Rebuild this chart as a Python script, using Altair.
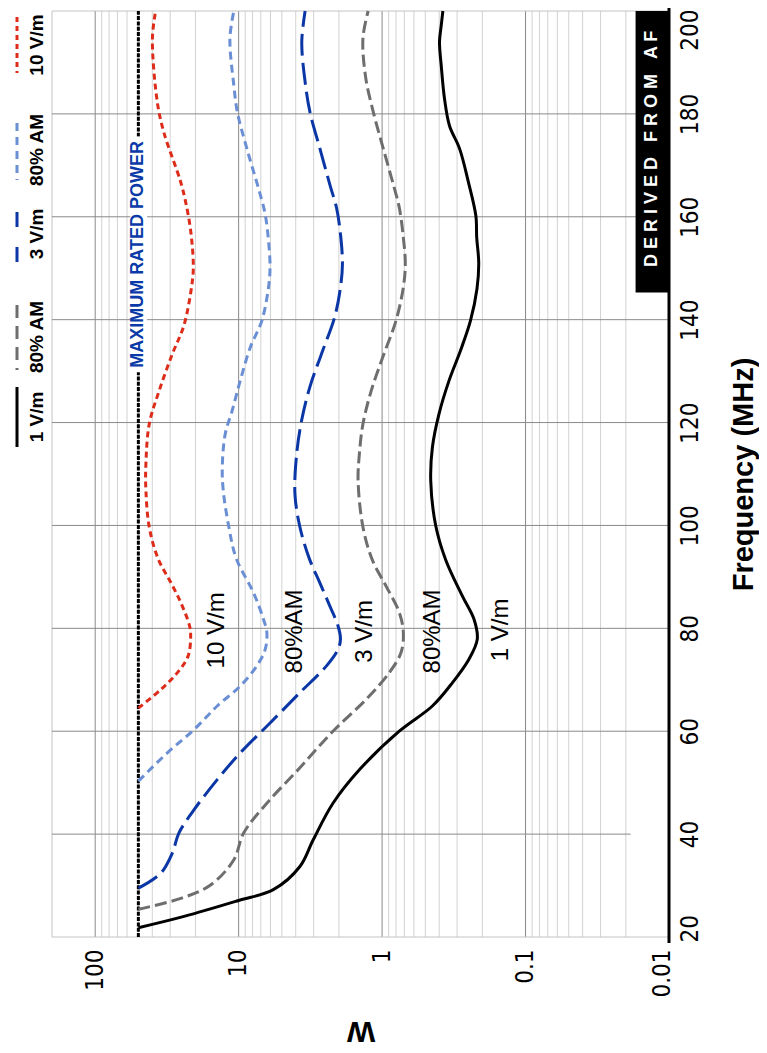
import altair as alt
import pandas as pd

# ---------------- data ----------------
freq_1vm = [21.8, 24.0, 27.1, 29.2, 33.7, 38.9, 46.0, 52.5, 60.0, 64.9, 69.4, 74.0, 77.9, 81.8,
            86.3, 93.3, 100.0, 108.7, 115.2, 121.7, 128.2, 134.0, 139.8, 146.0, 151.0, 156.0,
            160.2, 166.7, 173.2, 177.7, 182.9, 189.4, 194.0, 197.2, 200.0]
watt_1vm = [50, 24.0, 10.0, 5.73, 3.74, 3.02, 2.20, 1.44, 0.759, 0.446, 0.324, 0.248, 0.217, 0.229,
            0.276, 0.36, 0.423, 0.458, 0.446, 0.401, 0.341, 0.284, 0.242, 0.218, 0.212, 0.219,
            0.222, 0.25, 0.288, 0.339, 0.367, 0.387, 0.398, 0.387, 0.377]

freq_1vm_am = [25.4, 27.5, 30.1, 35.0, 40.2, 46.0, 52.9, 60.0, 66.2, 71.4, 75.3, 79.2, 83.1, 88.2,
               93.3, 99.7, 108.7, 113.9, 119.7, 126.2, 132.7, 139.8, 146.3, 150.8, 156.0, 161.8,
               166.0, 173.2, 180.3, 187.0, 194.7, 200.0]
watt_1vm_am = [50, 25.3, 15.7, 10.8, 9.23, 6.36, 3.74, 2.20, 1.29, 0.89, 0.738, 0.711, 0.759, 0.938,
               1.17, 1.36, 1.47, 1.44, 1.36, 1.19, 0.99, 0.80, 0.711, 0.689, 0.711, 0.759,
               0.83, 0.98, 1.15, 1.30, 1.36, 1.25]

freq_3vm = [29.5, 32.4, 36.3, 40.2, 44.7, 50.6, 55.8, 61.6, 67.5, 72.7, 75.9, 77.9, 80.5, 84.4,
            88.9, 93.6, 99.7, 106.1, 113.9, 120.4, 126.9, 133.3, 140.5, 146.3, 150.8, 156.6,
            161.8, 166.0, 173.2, 180.3, 186.2, 194.0, 200.0]
watt_3vm = [50, 34.9, 29.0, 26.1, 20.5, 14.1, 9.73, 6.04, 3.74, 2.44, 2.03, 1.95, 2.03, 2.32,
            2.72, 3.22, 3.74, 4.05, 3.94, 3.64, 3.19, 2.65, 2.14, 1.95, 1.89, 1.95,
            2.08, 2.3, 2.71, 3.18, 3.44, 3.63, 3.44]

freq_3vm_am = [50.3, 55.8, 60.3, 64.9, 68.8, 72.7, 75.9, 79.2, 81.8, 86.9, 93.6, 99.7, 106.8, 111.3,
               117.8, 122.3, 128.2, 134.6, 139.8, 146.3, 150.2, 155.3, 160.5, 164.5, 173.2, 180.3,
               185.5, 194.7, 200.0]
watt_3vm_am = [50, 31.4, 20.5, 14.1, 9.73, 7.47, 6.53, 6.36, 6.72, 7.87, 10.4, 11.7, 12.8, 13.0,
               12.4, 11.1, 9.73, 8.3, 6.89, 6.19, 6.04, 6.19, 6.53, 7.1, 8.75, 10.2,
               10.8, 11.5, 10.8]

freq_10vm = [64.5, 68.1, 71.4, 74.6, 78.5, 80.5, 85.0, 88.9, 93.6, 99.7, 106.8, 112.0, 119.7, 126.0,
             133.3, 139.0, 147.6, 150.8, 157.3, 163.1, 167.0, 176.4, 182.3, 194.7, 200.0]
watt_10vm = [50, 34.9, 26.7, 22.5, 21.6, 22.0, 25.3, 29.7, 36.5, 42.0, 44.3, 44.3, 42.0, 36.0,
             29.0, 24.0, 21.0, 20.7, 21.6, 23.5, 25.5, 33.2, 36.9, 39.9, 37.9]

max_power_w = 50
max_power_freq = [20, 200]

curve_labels = ["10 V/m", "80%AM", "3 V/m", "80%AM", "1 V/m"]
curve_label_w = [14.1, 4.04, 1.32, 0.443, 0.148]
curve_label_f = [79.6, 79.4, 79.4, 79.4, 79.7]

legend_labels = ["10 V/m", "80% AM", "3 V/m", "80% AM", "1 V/m"]

w_ticks = [100, 10, 1, 0.1, 0.01]
freq_ticks = [20, 40, 60, 80, 100, 120, 140, 160, 180, 200]
w_major_grid = [100, 10, 1, 0.1]
w_minor_grid = [90, 80, 70, 60, 50, 40, 30, 20, 9, 8, 7, 6, 5, 4, 3, 2,
                0.9, 0.8, 0.7, 0.6, 0.5, 0.4, 0.3, 0.2, 0.09, 0.08, 0.07, 0.06, 0.05, 0.04, 0.03, 0.02]
freq_grid = [60, 80, 100, 120, 140, 160, 180]
freq_grid_short = [40]
freq_edges = [20, 200]
w_edges = [200]

# ---------------- styling ----------------
W, H = 617, 926
FONT = "Liberation Sans, Arial, Helvetica, sans-serif"
NARROW = "Liberation Sans Narrow, Arial Narrow, DejaVu Sans Condensed, sans-serif"
C_BLACK, C_GRAY, C_BLUE, C_LBLUE, C_RED = "#000000", "#6e6e6e", "#0a36a6", "#6b8fd4", "#dd2c1a"
GRID_MAJOR, GRID_MINOR, GRID_EDGE = "#8a8a8a", "#d2d2d2", "#c4c4c4"
NB = "\u00a0"

xscale = alt.Scale(type="log", domain=[0.01, 200], reverse=True, nice=False)
yscale = alt.Scale(domain=[20, 200], nice=False, zero=False)

xaxis = alt.Axis(
    values=w_ticks, format="~g", labelAngle=270, labelAlign="right",
    labelBaseline={"condition": {"test": "datum.value < 0.011", "value": "alphabetic"}, "value": "middle"},
    labelPadding=12, labelFont=NARROW, labelFontSize=24, labelColor="#000", labelOverlap=False,
    ticks=False, domain=False, grid=False,
    title="W", titleFont=FONT, titleFontSize=30, titleFontWeight="bold", titleColor="#000",
    titleAngle=180, titleAlign="center", titleBaseline="middle", titleY=93,
)
yaxis = alt.Axis(
    values=freq_ticks, orient="right", labelAngle=270,
    labelAlign={"condition": [{"test": "datum.value >= 199", "value": "right"},
                              {"test": "datum.value <= 21", "value": "left"}], "value": "center"},
    labelOffset={"condition": [{"test": "datum.value >= 199", "value": -2},
                               {"test": "datum.value <= 21", "value": 5}], "value": 0},
    labelBaseline="top", labelPadding=9, labelFont=NARROW, labelFontSize=24, labelColor="#000",
    labelOverlap=False, ticks=False, grid=False, domain=False,
    title="Frequency (MHz)", titleFont=FONT, titleFontSize=29, titleFontWeight="bold", titleColor="#000",
    titleAngle=270, titleAlign="center", titleBaseline="middle", titleX=74, titleY=H / 2,
)


def X(field):
    return alt.X(field, type="quantitative", scale=xscale, axis=xaxis)


def Y(field):
    return alt.Y(field, type="quantitative", scale=yscale, axis=yaxis)


layers = []

# grid
layers.append(alt.Chart(pd.DataFrame({"w": w_minor_grid})).mark_rule(color=GRID_MINOR, strokeWidth=1).encode(x=X("w")))
layers.append(alt.Chart(pd.DataFrame({"w": w_edges})).mark_rule(color=GRID_EDGE, strokeWidth=1).encode(x=X("w")))
layers.append(alt.Chart(pd.DataFrame({"w": w_major_grid})).mark_rule(color=GRID_MAJOR, strokeWidth=1).encode(x=X("w")))
layers.append(alt.Chart(pd.DataFrame({"f": freq_edges})).mark_rule(color=GRID_EDGE, strokeWidth=1).encode(y=Y("f")))
layers.append(alt.Chart(pd.DataFrame({"f": freq_grid})).mark_rule(color=GRID_MAJOR, strokeWidth=1).encode(y=Y("f")))
layers.append(alt.Chart(pd.DataFrame({"f": freq_grid_short, "w": [200], "w1": [0.0185]}))
              .mark_rule(color=GRID_MAJOR, strokeWidth=1).encode(y=Y("f"), x=X("w"), x2="w1"))

# maximum rated power line
layers.append(alt.Chart(pd.DataFrame({"f": max_power_freq, "w": [max_power_w] * 2}))
              .mark_line(color="#000", strokeWidth=3, strokeDash=[4, 1.3], strokeCap="butt")
              .encode(x=X("w"), y=Y("f"), order="f:Q"))
layers.append(alt.Chart(pd.DataFrame({"w": [57.0], "w1": [43.5], "f": [129.8], "f1": [175.6]}))
              .mark_rect(color="white").encode(x=X("w"), x2="w1", y=Y("f"), y2="f1"))
layers.append(alt.Chart(pd.DataFrame({"w": [max_power_w], "f": [152.7], "t": ["MAXIMUM RATED POWER"]}))
              .mark_text(angle=270, align="center", baseline="middle", font=FONT, fontSize=18,
                         fontWeight="bold", color="#0a3aa8")
              .encode(x=X("w"), y=Y("f"), text="t:N"))

# curves
series = [
    (freq_1vm, watt_1vm, C_BLACK, None),
    (freq_1vm_am, watt_1vm_am, C_GRAY, [12, 5]),
    (freq_3vm, watt_3vm, C_BLUE, [22, 7]),
    (freq_3vm_am, watt_3vm_am, C_LBLUE, [8, 5]),
    (freq_10vm, watt_10vm, C_RED, [6, 4]),
]
for f, w, color, dash in series:
    kw = dict(color=color, strokeWidth=3, interpolate="catmull-rom", strokeCap="butt")
    if dash:
        kw["strokeDash"] = dash
    layers.append(alt.Chart(pd.DataFrame({"f": f, "w": w})).mark_line(**kw)
                  .encode(x=X("w"), y=Y("f"), order="f:Q"))

# in-plot curve labels
layers.append(alt.Chart(pd.DataFrame({"t": curve_labels, "w": curve_label_w, "f": curve_label_f}))
              .mark_text(angle=270, align="center", baseline="middle", font=FONT, fontSize=24, color="#000")
              .encode(x=X("w"), y=Y("f"), text="t:N"))

# "DERIVED FROM AF" box
layers.append(alt.Chart(pd.DataFrame({"w": [0.0171], "w1": [0.01], "f": [145.3], "f1": [200.0]}))
              .mark_rect(color="#000").encode(x=X("w"), x2="w1", y=Y("f"), y2="f1"))
derived = (NB * 3).join(" ".join(word) for word in ["DERIVED", "FROM", "AF"])
layers.append(alt.Chart(pd.DataFrame({"w": [0.0132], "f": [173.2], "t": [derived]}))
              .mark_text(angle=270, align="center", baseline="middle", font=FONT, fontSize=18,
                         fontWeight="bold", color="#fff")
              .encode(x=X("w"), y=Y("f"), text="t:N"))

# thick frequency axis line (slightly longer than the plot, with a small cap at the top)
one = pd.DataFrame({"k": [0]})
layers.append(alt.Chart(one).mark_rule(color="#000", strokeWidth=3)
              .encode(x=alt.value(W), y=alt.value(-6), y2=alt.value(H + 6)))
layers.append(alt.Chart(one).mark_rule(color="#000", strokeWidth=2)
              .encode(x=alt.value(W - 5), x2=alt.value(W), y=alt.value(-5)))

# legend (outside the plot, left margin)
legend_styles = [(C_RED, [5, 4]), (C_LBLUE, [8, 6]), (C_BLUE, [15, 20]), (C_GRAY, [13, 8]), (C_BLACK, None)]
legend_swatch = [(6, 62), (112, 169), (201, 252), (294, 359), (376, 436)]
legend_text_y = [34, 139, 223, 326, 406]
for lab, (color, dash), (y1, y2), ty in zip(legend_labels, legend_styles, legend_swatch, legend_text_y):
    kw = dict(color=color, strokeWidth=3, strokeCap="butt")
    if dash:
        kw["strokeDash"] = dash
    layers.append(alt.Chart(one).mark_rule(**kw).encode(x=alt.value(-35), y=alt.value(y1), y2=alt.value(y2)))
    layers.append(alt.Chart(one).mark_text(text=lab, angle=270, align="center", baseline="middle",
                                           font=FONT, fontSize=19, fontWeight="bold", color="#000")
                  .encode(x=alt.value(-15), y=alt.value(ty)))

chart = (
    alt.layer(*layers)
    .properties(width=W, height=H, padding={"left": 44, "top": 3, "right": 90, "bottom": 112},
                autosize="none", background="white")
    .configure_view(stroke="transparent")
)

chart.save("out.html", embed_options={"renderer": "svg", "actions": False})
